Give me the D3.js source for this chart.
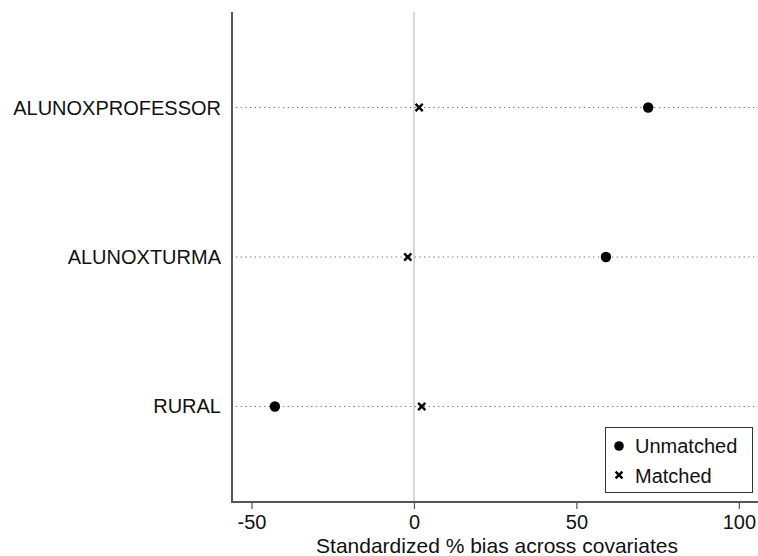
<!DOCTYPE html>
<html><head><meta charset="utf-8">
<script src="https://cdn.jsdelivr.net/npm/d3@7"></script>
<style>body{margin:0;background:#fff;} svg{display:block;font-family:"Liberation Sans",Arial,sans-serif;}</style>
</head><body>
<svg id="c" width="758" height="556"></svg>
<script>
const categories = ["ALUNOXPROFESSOR", "ALUNOXTURMA", "RURAL"];
const unmatched = [72.1, 59.1, -42.8];
const matched = [1.6, -1.9, 2.4];
const xTicks = [-50, 0, 50, 100];
const seriesNames = ["Unmatched", "Matched"];
const xTitle = "Standardized % bias across covariates";

(function () {
const svg = d3.select("#c");
const pL = 232, pR = 758, pT = 12, pB = 502;
const x = d3.scaleLinear().domain([-56, 105.9]).range([pL, pR]);
const y = d3.scalePoint().domain(categories).range([pT, pB]).padding(0.639);

// zero reference line
svg.append("line").attr("x1", x(0)).attr("x2", x(0)).attr("y1", pT).attr("y2", pB)
  .attr("stroke", "#d8d8d8").attr("stroke-width", 2);

// dotted category lines
svg.selectAll("line.dot").data(categories).enter().append("line")
  .attr("x1", pL + 4).attr("x2", pR).attr("y1", d => y(d)).attr("y2", d => y(d))
  .attr("stroke", "#666").attr("stroke-width", 1.2).attr("stroke-dasharray", "1.2 3.5");

// axes lines
svg.append("line").attr("x1", pL).attr("x2", pL).attr("y1", pT).attr("y2", pB + 1)
  .attr("stroke", "#555").attr("stroke-width", 2);
const xAxis = d3.axisBottom(x).tickValues(xTicks).tickFormat(d => String(d))
  .tickSize(7).tickSizeOuter(0).tickPadding(6);
const gx = svg.append("g").attr("transform", `translate(0,${pB})`).call(xAxis);
gx.select(".domain").attr("stroke", "#555").attr("stroke-width", 2).attr("d", `M${pL},0H${pR}`);
gx.selectAll(".tick line").attr("stroke", "#555").attr("stroke-width", 1.2);
gx.selectAll(".tick text").attr("fill", "#111").attr("font-size", 20).attr("font-family", "Liberation Sans, Arial, sans-serif");

// category labels
svg.selectAll("text.cat").data(categories).enter().append("text")
  .attr("x", 221).attr("y", d => y(d) + 7).attr("text-anchor", "end")
  .attr("font-size", 20).attr("fill", "#111").text(d => d);

// x title
svg.append("text").attr("x", 497).attr("y", 553).attr("text-anchor", "middle")
  .attr("font-size", 21).attr("fill", "#111").text(xTitle);

function cross(g, cx, cy, s) {
  g.append("path").attr("d", `M${cx - s},${cy - s}L${cx + s},${cy + s}M${cx - s},${cy + s}L${cx + s},${cy - s}`)
    .attr("stroke", "#000").attr("stroke-width", 2.4).attr("fill", "none");
}

// unmatched points
svg.selectAll("circle.u").data(categories).enter().append("circle")
  .attr("cx", (d, i) => x(unmatched[i])).attr("cy", d => y(d)).attr("r", 5.2).attr("fill", "#000");
// matched points
categories.forEach((c, i) => cross(svg, x(matched[i]), y(c), 3.6));

// legend
const lg = svg.append("g");
lg.append("rect").attr("x", 605.5).attr("y", 427.5).attr("width", 147).attr("height", 65)
  .attr("fill", "#fff").attr("stroke", "#333").attr("stroke-width", 1);
lg.append("circle").attr("cx", 619).attr("cy", 446).attr("r", 4.8).attr("fill", "#000");
cross(lg, 619, 475, 3.4);
lg.append("text").attr("x", 635).attr("y", 453).attr("font-size", 20).attr("fill", "#111").text(seriesNames[0]);
lg.append("text").attr("x", 635).attr("y", 483).attr("font-size", 20).attr("fill", "#111").text(seriesNames[1]);
})();
</script>
</body></html>
